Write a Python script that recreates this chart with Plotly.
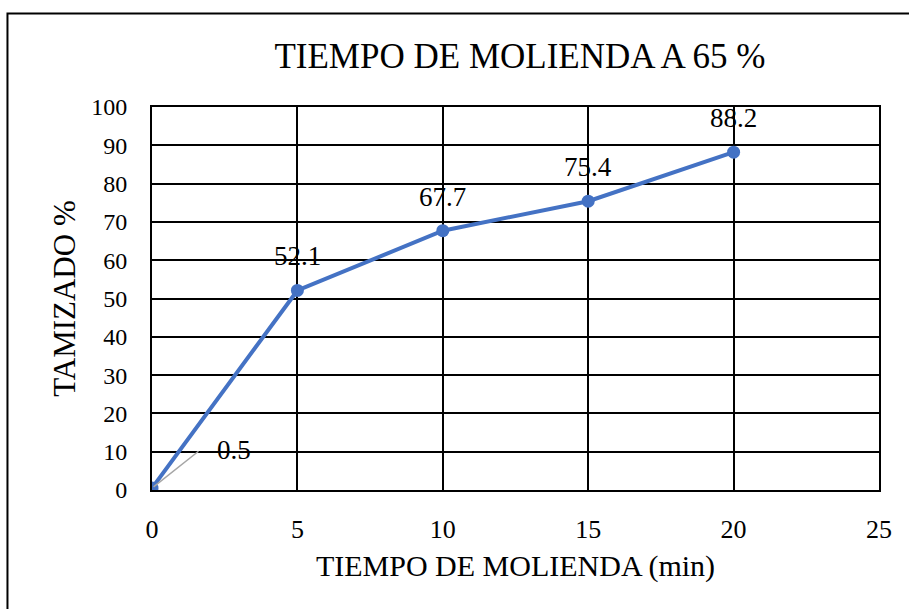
import plotly.graph_objects as go

# Grinding time (min) vs. percentage passing the sieve
tiempo = [0, 5, 10, 15, 20]
tamizado = [0.5, 52.1, 67.7, 75.4, 88.2]

x_ticks = [0, 5, 10, 15, 20, 25]
y_ticks = [0, 10, 20, 30, 40, 50, 60, 70, 80, 90, 100]

FONT = "Liberation Serif, Times New Roman, serif"
BLUE = "#4472C4"

fig = go.Figure()
fig.add_trace(go.Scatter(
    x=tiempo, y=tamizado, mode="lines+markers",
    line=dict(color=BLUE, width=4),
    marker=dict(color=BLUE, size=13),
    hoverinfo="x+y", showlegend=False,
))

# Value labels above each point; the first one sits off to the side with a leader line
annotations = []
for i, (xv, yv) in enumerate(zip(tiempo, tamizado)):
    if i == 0:
        annotations.append(dict(
            x=xv, y=yv, xref="x", yref="y", text="", showarrow=True,
            arrowhead=0, arrowwidth=1.5, arrowcolor="#A6A6A6",
            ax=48, ay=-38, standoff=2,
        ))
        annotations.append(dict(
            x=xv, y=yv, xref="x", yref="y", text=f"{yv:g}", showarrow=False,
            xshift=82, yshift=38, font=dict(family=FONT, size=27, color="black"),
        ))
    else:
        annotations.append(dict(
            x=xv, y=yv, xref="x", yref="y", text=f"{yv:g}", showarrow=False,
            yshift=34, font=dict(family=FONT, size=27, color="black"),
        ))

fig.update_layout(
    width=909, height=609,
    margin=dict(l=152, r=30, t=107, b=119),
    paper_bgcolor="white", plot_bgcolor="white",
    font=dict(family=FONT, color="black"),
    title=dict(
        text="TIEMPO DE MOLIENDA A 65 %",
        x=0.572, xref="container", xanchor="center",
        y=1 - 56 / 609, yref="container", yanchor="middle",
        font=dict(family=FONT, size=35, color="black"),
    ),
    annotations=annotations,
    shapes=[dict(
        type="rect", xref="paper", yref="paper",
        x0=-0.1988, x1=1.06, y0=-0.35, y1=1.2441,
        line=dict(color="black", width=2), fillcolor="rgba(0,0,0,0)",
        layer="below",
    )],
)

fig.update_xaxes(
    range=[0, 25], tickvals=x_ticks, ticktext=[str(v) for v in x_ticks],
    showgrid=True, gridcolor="black", gridwidth=1.5,
    showline=True, linecolor="black", linewidth=2, mirror=True,
    zeroline=False, ticks="", ticklabelstandoff=15,
    tickfont=dict(family=FONT, size=26, color="black"),
    title=dict(text="TIEMPO DE MOLIENDA (min)", standoff=12,
               font=dict(family=FONT, size=30, color="black")),
)
fig.update_yaxes(
    range=[0, 100], tickvals=y_ticks, ticktext=[str(v) for v in y_ticks],
    showgrid=True, gridcolor="black", gridwidth=1.5,
    showline=True, linecolor="black", linewidth=2, mirror=True,
    zeroline=False, ticks="", ticklabelstandoff=18,
    tickfont=dict(family=FONT, size=24, color="black"),
    title=dict(text="TAMIZADO %", standoff=6,
               font=dict(family=FONT, size=31, color="black")),
)

fig.write_html("out.html")
